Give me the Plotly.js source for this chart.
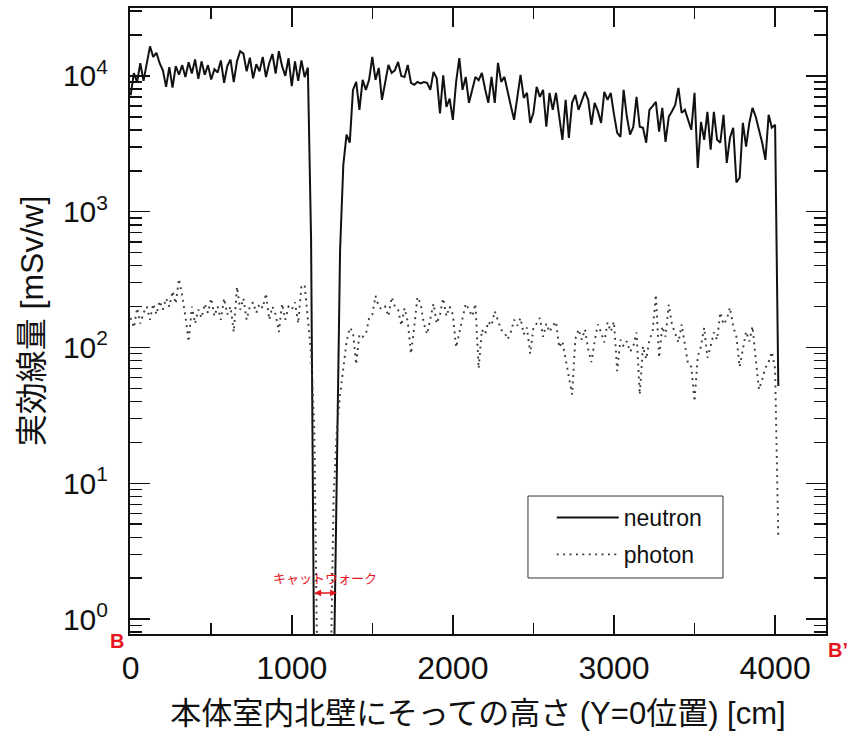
<!DOCTYPE html>
<html>
<head>
<meta charset="utf-8">
<script src="https://cdn.plot.ly/plotly-3.0.1.min.js"></script>
<style>html,body{margin:0;padding:0;background:#fff;}#chart{width:852px;height:737px;}</style>
</head>
<body>
<div id="chart"></div>
<script>
// Height along the north wall [cm]
const heights = [0,20,40,60,80,100,120,140,160,180,200,220,240,260,280,300,320,340,360,380,
400,420,440,460,480,500,520,540,560,580,600,620,640,660,680,700,720,740,760,780,
800,820,840,860,880,900,920,940,960,980,1000,1020,1040,1060,1080,1100,1120,1140,1160,1180,
1200,1220,1240,1260,1280,1300,1320,1340,1360,1380,1400,1420,1440,1460,1480,1500,1520,1540,1560,1580,
1600,1620,1640,1660,1680,1700,1720,1740,1760,1780,1800,1820,1840,1860,1880,1900,1920,1940,1960,1980,
2000,2020,2040,2060,2080,2100,2120,2140,2160,2180,2200,2220,2240,2260,2280,2300,2320,2340,2360,2380,
2400,2420,2440,2460,2480,2500,2520,2540,2560,2580,2600,2620,2640,2660,2680,2700,2720,2740,2760,2780,
2800,2820,2840,2860,2880,2900,2920,2940,2960,2980,3000,3020,3040,3060,3080,3100,3120,3140,3160,3180,
3200,3220,3240,3260,3280,3300,3320,3340,3360,3380,3400,3420,3440,3460,3480,3500,3520,3540,3560,3580,
3600,3620,3640,3660,3680,3700,3720,3740,3760,3780,3800,3820,3840,3860,3880,3900,3920,3940,3960,3980,
4000,4020];

// Neutron effective dose [mSv/w]
const neutron = [7200,10500,9000,12400,9200,12500,16500,13800,14800,12400,11000,8300,11600,8200,11800,10200,12000,9800,12600,10400,
13200,9500,12800,10200,12000,9400,11200,10600,13000,8900,11800,13200,9000,12800,15200,14600,10800,13600,9600,12200,
10800,13800,9800,12400,14500,10400,15200,11800,10000,13500,8400,12800,9200,13000,9800,11500,620,0.3,null,null,
null,null,null,0.3,13,525,2200,3690,3220,7890,9030,5620,9350,7890,9350,13800,9350,11450,6660,8880,
12050,10520,11000,12670,10000,9830,12050,8880,8590,9030,8800,9000,8880,7890,10700,9600,5300,10100,5900,6800,
4750,9000,13500,7890,9830,6330,8000,9830,9300,10500,8000,6330,9830,6330,12460,9030,9830,7500,6000,4750,
7000,10170,6890,7500,4510,5340,8300,7010,7890,4220,7500,5620,7500,5000,3380,6660,3500,6330,7250,5620,
6500,7630,6660,4360,6330,5500,4510,7630,6660,7500,5200,3810,3560,7890,5000,3690,4220,7010,4220,4150,
3220,5620,6000,6440,3880,5820,3270,5000,5500,6120,8160,5340,5620,4800,4010,7500,2100,4590,3380,5440,
2860,5440,3380,3220,5170,2290,3500,4150,1640,1780,4510,3010,4500,5820,5000,4000,3220,2410,5170,4150,
4360,52];

// Photon effective dose [mSv/w]
const photon = [165,140,195,150,180,200,160,210,175,220,190,230,200,260,210,320,240,170,110,200,
150,190,165,210,180,230,170,200,160,230,175,200,130,280,190,230,160,200,215,180,
210,195,250,160,200,175,130,210,160,200,190,215,150,280,290,150,90,25,0.3,null,
null,null,0.3,8,25,45,70,110,140,130,75,125,120,125,165,175,240,200,190,200,
170,235,200,190,145,195,155,90,140,235,210,150,125,160,210,150,175,230,170,200,
175,100,130,160,210,190,170,210,70,135,125,155,145,185,160,135,130,115,130,160,
145,165,125,140,90,140,150,165,120,150,130,145,155,100,111,82,60,45,115,136,
114,136,97,78,111,148,129,109,153,131,155,67,114,102,111,93,102,129,45,102,
82,114,131,245,84,143,120,207,148,129,109,148,102,75,72,40,86,102,140,84,
102,129,114,181,148,161,197,143,120,72,97,131,111,143,82,49,58,71,78,93,
70,4];

const seriesNames = ['neutron', 'photon'];
const yTickVals = [1, 10, 100, 1000, 10000];
const yTickText = ['10<sup>0</sup>', '10<sup>1</sup>', '10<sup>2</sup>', '10<sup>3</sup>', '10<sup>4</sup>'];
const yMinorVals = [0.8, 0.9, 2, 3, 4, 5, 6, 7, 8, 9, 20, 30, 40, 50, 60, 70, 80, 90,
  200, 300, 400, 500, 600, 700, 800, 900, 2000, 3000, 4000, 5000, 6000, 7000, 8000, 9000, 20000, 30000];

const latin = 'Liberation Sans, Arial, Noto Sans CJK JP, sans-serif';

const traces = [
  {x: heights, y: neutron, name: seriesNames[0], type: 'scatter', mode: 'lines',
   line: {color: '#111', width: 2}, connectgaps: false, legendgroup: 'a'},
  {x: heights, y: photon, name: seriesNames[1], type: 'scatter', mode: 'lines',
   line: {color: '#3a3a3a', width: 1.9, dash: '1.9px,4.5px'}, connectgaps: false, legendgroup: 'b'}
];

const layout = {
  width: 852, height: 737,
  margin: {l: 130, r: 26, t: 8, b: 103},
  paper_bgcolor: '#fff', plot_bgcolor: '#fff',
  font: {family: latin, color: '#111'},
  showlegend: true,
  legend: {x: 0.606, y: 0.2204, xanchor: 'left', yanchor: 'top',
    bgcolor: 'rgba(0,0,0,0)', borderwidth: 0,
    font: {size: 23, family: latin, color: '#111'}, itemwidth: 62, tracegroupgap: 4},
  shapes: [
    {type: 'rect', xref: 'paper', yref: 'paper', x0: 0.5718, x1: 0.852, y0: 0.0895, y1: 0.2204,
     line: {color: '#333', width: 1}, fillcolor: 'rgba(255,255,255,0)', layer: 'above'}
  ],
  xaxis: {
    range: [-4, 4316], tick0: 0, dtick: 1000,
    ticks: 'inside', ticklen: 19, tickwidth: 1.5, tickcolor: '#111',
    showline: true, linewidth: 2, linecolor: '#111', mirror: 'ticks',
    showgrid: false, zeroline: false, automargin: false,
    tickfont: {size: 32, family: latin, color: '#111'},
    ticklabelstandoff: 5,
    minor: {dtick: 500, ticks: 'inside', ticklen: 11, tickwidth: 1.5, tickcolor: '#111', showgrid: false},
    title: {text: '本体室内北壁にそっての高さ (Y=0位置) [cm]', font: {size: 31, family: latin, color: '#111'}, standoff: 17}
  },
  yaxis: {
    type: 'log', range: [-0.11, 4.5],
    tickmode: 'array', tickvals: yTickVals, ticktext: yTickText,
    ticks: 'inside', ticklen: 20, tickwidth: 1.5, tickcolor: '#111',
    showline: true, linewidth: 2, linecolor: '#111', mirror: 'ticks',
    showgrid: false, zeroline: false, automargin: false,
    tickfont: {size: 30, family: latin, color: '#111'},
    ticklabelstandoff: 14,
    minor: {tickmode: 'array', tickvals: yMinorVals, ticks: 'inside', ticklen: 12, tickwidth: 1.5, tickcolor: '#111', showgrid: false},
    title: {text: '実効線量 [mSv/w]', font: {size: 32, family: latin, color: '#111'}, standoff: 10}
  },
  annotations: [
    {xref: 'paper', yref: 'paper', x: -0.0187, y: -0.0112, text: '<b>B</b>', showarrow: false,
     xanchor: 'center', yanchor: 'middle', font: {size: 20, color: '#e5161e', family: latin}},
    {xref: 'paper', yref: 'paper', x: 1.0172, y: -0.0256, text: '<b>B’</b>', showarrow: false,
     xanchor: 'center', yanchor: 'middle', font: {size: 20, color: '#e5161e', family: latin}},
    {xref: 'x', yref: 'paper', x: 1205, y: 0.0895, text: 'キャットウォーク', showarrow: false,
     xanchor: 'center', yanchor: 'middle', font: {size: 13, color: '#e5161e', family: 'Noto Sans CJK JP'}},
    {xref: 'x', yref: 'paper', x: 1280, y: 0.0655, ax: -24, ay: 0, text: '', showarrow: true,
     arrowside: 'end+start', arrowhead: 2, arrowsize: 0.9, arrowwidth: 1.5, arrowcolor: '#e5161e',
     standoff: 0, startstandoff: 0}
  ]
};

Plotly.newPlot('chart', traces, layout, {displayModeBar: false, staticPlot: true});
</script>
</body>
</html>
